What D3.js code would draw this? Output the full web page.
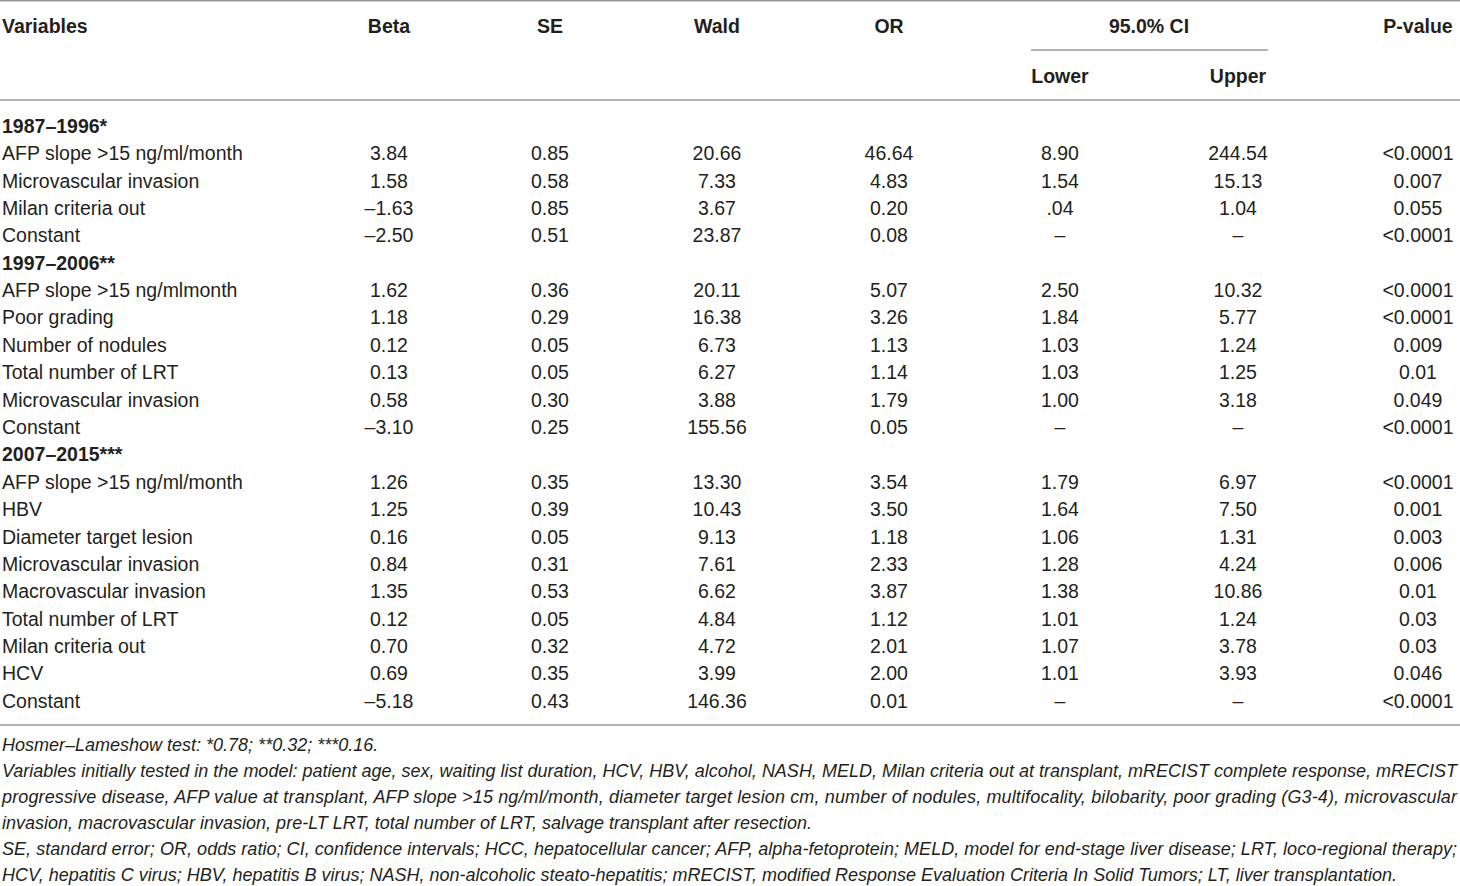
<!DOCTYPE html>
<html>
<head>
<meta charset="utf-8">
<script src="https://cdn.jsdelivr.net/npm/d3@7"></script>
<style>
  body { margin: 0; background: #fff; }
  svg { display: block; }
</style>
</head>
<body>
<div id="table"></div>
<script>
/* Table data */
const columns = ["Beta", "SE", "Wald", "OR", "Lower", "Upper", "P-value"];
const sectionTitles = ["1987–1996*", "1997–2006**", "2007–2015***"];
const sectionSizes = [4, 6, 9];

const variables = [
  "AFP slope >15 ng/ml/month", "Microvascular invasion", "Milan criteria out", "Constant",
  "AFP slope >15 ng/mlmonth", "Poor grading", "Number of nodules", "Total number of LRT",
  "Microvascular invasion", "Constant",
  "AFP slope >15 ng/ml/month", "HBV", "Diameter target lesion", "Microvascular invasion",
  "Macrovascular invasion", "Total number of LRT", "Milan criteria out", "HCV", "Constant"
];
const beta = ["3.84", "1.58", "–1.63", "–2.50",
  "1.62", "1.18", "0.12", "0.13", "0.58", "–3.10",
  "1.26", "1.25", "0.16", "0.84", "1.35", "0.12", "0.70", "0.69", "–5.18"];
const se = ["0.85", "0.58", "0.85", "0.51",
  "0.36", "0.29", "0.05", "0.05", "0.30", "0.25",
  "0.35", "0.39", "0.05", "0.31", "0.53", "0.05", "0.32", "0.35", "0.43"];
const wald = ["20.66", "7.33", "3.67", "23.87",
  "20.11", "16.38", "6.73", "6.27", "3.88", "155.56",
  "13.30", "10.43", "9.13", "7.61", "6.62", "4.84", "4.72", "3.99", "146.36"];
const oddsRatio = ["46.64", "4.83", "0.20", "0.08",
  "5.07", "3.26", "1.13", "1.14", "1.79", "0.05",
  "3.54", "3.50", "1.18", "2.33", "3.87", "1.12", "2.01", "2.00", "0.01"];
const ciLower = ["8.90", "1.54", ".04", "–",
  "2.50", "1.84", "1.03", "1.03", "1.00", "–",
  "1.79", "1.64", "1.06", "1.28", "1.38", "1.01", "1.07", "1.01", "–"];
const ciUpper = ["244.54", "15.13", "1.04", "–",
  "10.32", "5.77", "1.24", "1.25", "3.18", "–",
  "6.97", "7.50", "1.31", "4.24", "10.86", "1.24", "3.78", "3.93", "–"];
const pValue = ["<0.0001", "0.007", "0.055", "<0.0001",
  "<0.0001", "<0.0001", "0.009", "0.01", "0.049", "<0.0001",
  "<0.0001", "0.001", "0.003", "0.006", "0.01", "0.03", "0.03", "0.046", "<0.0001"];

const footnotes = [
  "Hosmer–Lameshow test: *0.78; **0.32; ***0.16.",
  "Variables initially tested in the model: patient age, sex, waiting list duration, HCV, HBV, alcohol, NASH, MELD, Milan criteria out at transplant, mRECIST complete response, mRECIST",
  "progressive disease, AFP value at transplant, AFP slope >15 ng/ml/month, diameter target lesion cm, number of nodules, multifocality, bilobarity, poor grading (G3-4), microvascular",
  "invasion, macrovascular invasion, pre-LT LRT, total number of LRT, salvage transplant after resection.",
  "SE, standard error; OR, odds ratio; CI, confidence intervals; HCC, hepatocellular cancer; AFP, alpha-fetoprotein; MELD, model for end-stage liver disease; LRT, loco-regional therapy;",
  "HCV, hepatitis C virus; HBV, hepatitis B virus; NASH, non-alcoholic steato-hepatitis; mRECIST, modified Response Evaluation Criteria In Solid Tumors; LT, liver transplantation."
];
// lines that are justified to the full width
const justified = [false, true, true, false, true, false];

/* Build the row list: a title row for each period, then its variables */
const rows = [];
let k = 0;
sectionTitles.forEach((title, s) => {
  rows.push({title: title});
  for (let j = 0; j < sectionSizes[s]; j++, k++) {
    rows.push({
      label: variables[k],
      values: [beta[k], se[k], wald[k], oddsRatio[k], ciLower[k], ciUpper[k], pValue[k]]
    });
  }
});

const width = 1460, height = 886;
const left = 2, right = 1457;
const font = "'Liberation Sans', Arial, sans-serif";
const ink = "#231f20";
const rule = "#9a9a9a";

const svg = d3.select("#table")
  .append("svg")
  .attr("width", width)
  .attr("height", height)
  .style("font-family", font);

/* Column centres */
const xCol = d3.scaleOrdinal()
  .domain(columns)
  .range([389, 550, 717, 889, 1060, 1238, 1418]);

/* Row positions */
const yRow = d3.scaleLinear()
  .domain([0, rows.length - 1])
  .range([126, 701]);

/* Horizontal rules */
const rules = [
  {x1: 0, x2: width, y: 0.75},
  {x1: 1031, x2: 1268, y: 50},
  {x1: 0, x2: width, y: 100},
  {x1: 0, x2: width, y: 725}
];
svg.append("g")
  .selectAll("line")
  .data(rules)
  .join("line")
    .attr("x1", d => d.x1)
    .attr("x2", d => d.x2)
    .attr("y1", d => d.y)
    .attr("y2", d => d.y)
    .attr("stroke", rule)
    .attr("stroke-width", 1.5);

/* Header */
const header = svg.append("g")
  .style("font-weight", "bold")
  .style("font-size", "19.5px")
  .attr("fill", ink);

header.append("text")
  .attr("x", left)
  .attr("y", 26)
  .attr("dy", "0.35em")
  .text("Variables");

header.selectAll("text.col")
  .data(["Beta", "SE", "Wald", "OR", "P-value"])
  .join("text")
    .attr("class", "col")
    .attr("x", d => xCol(d))
    .attr("y", 26)
    .attr("dy", "0.35em")
    .attr("text-anchor", "middle")
    .text(d => d);

header.append("text")
  .attr("x", (xCol("Lower") + xCol("Upper")) / 2)
  .attr("y", 26)
  .attr("dy", "0.35em")
  .attr("text-anchor", "middle")
  .text("95.0% CI");

header.selectAll("text.sub")
  .data(["Lower", "Upper"])
  .join("text")
    .attr("class", "sub")
    .attr("x", d => xCol(d))
    .attr("y", 76)
    .attr("dy", "0.35em")
    .attr("text-anchor", "middle")
    .text(d => d);

/* Body rows */
const body = svg.append("g")
  .style("font-size", "19.5px")
  .attr("fill", ink);

const row = body.selectAll("g.row")
  .data(rows)
  .join("g")
    .attr("class", "row")
    .attr("transform", (d, i) => `translate(0, ${yRow(i)})`);

row.append("text")
  .attr("x", left)
  .attr("dy", "0.35em")
  .style("font-weight", d => d.title ? "bold" : null)
  .text(d => d.title || d.label);

row.filter(d => d.values)
  .selectAll("text.val")
  .data(d => d.values.map((v, i) => ({col: columns[i], v: v})))
  .join("text")
    .attr("class", "val")
    .attr("x", d => xCol(d.col))
    .attr("dy", "0.35em")
    .attr("text-anchor", "middle")
    .text(d => d.v);

/* Footnotes */
const yNote = d3.scaleLinear()
  .domain([0, footnotes.length - 1])
  .range([745, 875]);

svg.append("g")
  .style("font-size", "18px")
  .style("font-style", "italic")
  .attr("fill", ink)
  .selectAll("text")
  .data(footnotes)
  .join("text")
    .attr("x", left)
    .attr("y", (d, i) => yNote(i))
    .attr("dy", "0.35em")
    .each(function(d, i) {
      if (justified[i]) {
        d3.select(this)
          .attr("textLength", right - left)
          .attr("lengthAdjust", "spacing");
      }
    })
    .text(d => d);
</script>
</body>
</html>
